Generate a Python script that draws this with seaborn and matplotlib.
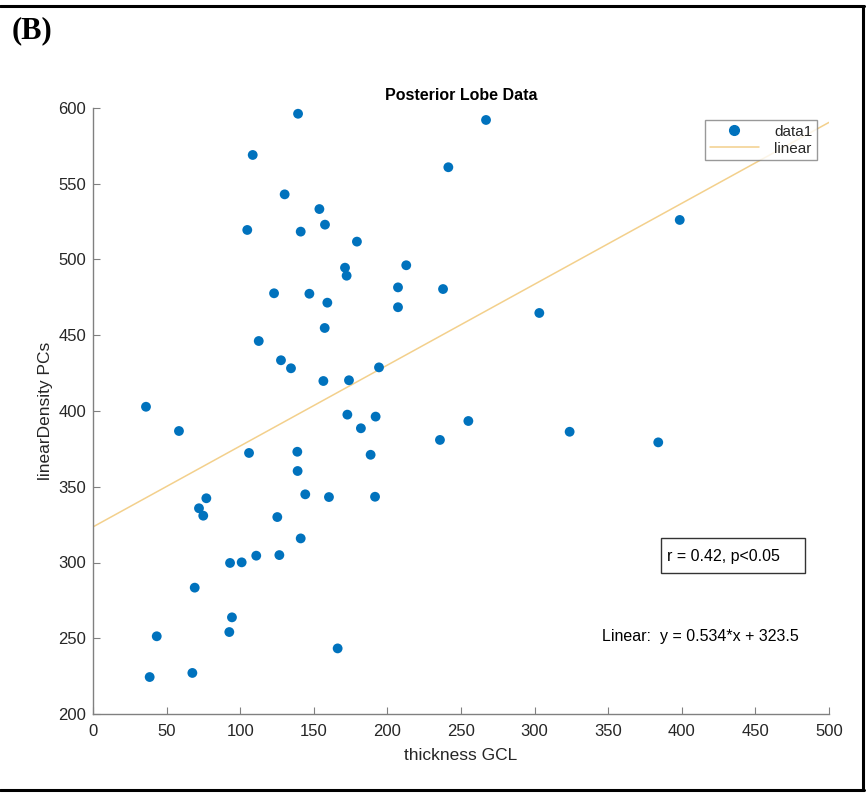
import matplotlib
matplotlib.use("Agg")
import matplotlib.pyplot as plt
from matplotlib.lines import Line2D
from matplotlib.patches import Rectangle
import numpy as np
import pandas as pd
import seaborn as sns

# ---- data ----
thickness_gcl = [139.3, 108.5, 130.2, 153.8, 104.8, 141.1, 157.6, 123.0, 147.0, 159.2,
                 157.4, 112.6, 127.7, 134.5, 156.5, 36.0, 179.3, 171.2, 172.3, 212.8,
                 207.2, 207.2, 237.8, 173.9, 194.3, 172.8, 192.0, 241.4, 267.0, 398.6,
                 303.2, 255.0, 235.7, 323.8, 384.0, 58.4, 106.0, 138.8, 139.0, 144.2,
                 77.0, 72.0, 74.9, 125.2, 141.1, 93.1, 101.0, 110.9, 126.6, 69.1,
                 94.4, 92.6, 43.3, 38.5, 67.5, 182.0, 188.6, 191.6, 166.2, 160.3]
linear_density = [596.2, 569.0, 543.0, 533.3, 519.5, 518.4, 523.0, 477.7, 477.4, 471.5,
                  454.8, 446.2, 433.5, 428.2, 419.8, 402.8, 511.8, 494.6, 489.3, 496.2,
                  481.6, 468.5, 480.5, 420.3, 428.8, 397.6, 396.3, 560.9, 592.1, 526.1,
                  464.7, 393.4, 380.9, 386.3, 379.3, 386.8, 372.3, 373.1, 360.4, 345.0,
                  342.4, 335.8, 330.9, 330.0, 315.9, 299.7, 300.1, 304.5, 304.9, 283.4,
                  263.8, 254.1, 251.3, 224.4, 227.1, 388.6, 371.1, 343.4, 243.3, 343.2]
fit_slope = 0.534
fit_intercept = 323.5
fit_x = [0, 500]
x_ticks = [0, 50, 100, 150, 200, 250, 300, 350, 400, 450, 500]
y_ticks = [200, 250, 300, 350, 400, 450, 500, 550, 600]
title = "Posterior Lobe Data"
panel_label = "(B)"
stats_text = "r = 0.42, p<0.05"
eq_text = "Linear:  y = 0.534*x + 323.5"

sns.set_theme(style="white")
plt.rcParams['font.family'] = ['Liberation Sans', 'DejaVu Sans']

W, H = 866, 793
fig = plt.figure(figsize=(W / 100, H / 100), dpi=100)
ax = fig.add_axes([93 / W, 1 - 714 / H, (829 - 93) / W, (714 - 108) / H])

df = pd.DataFrame({"thickness GCL": thickness_gcl, "linearDensity PCs": linear_density})
fit_df = pd.DataFrame({"x": fit_x, "y": [fit_slope * v + fit_intercept for v in fit_x]})

blue = "#0072BD"
fitc = "#F3D08C"
sns.lineplot(data=fit_df, x="x", y="y", ax=ax, color=fitc, linewidth=1.1, zorder=1)
sns.scatterplot(data=df, x="thickness GCL", y="linearDensity PCs", ax=ax, color=blue,
                s=50, edgecolor="none", zorder=3)

ax.set_xlim(0, 500)
ax.set_ylim(200, 600)
ax.set_xticks(x_ticks)
ax.set_yticks(y_ticks)
txtc = "#262626"
spc = "#808080"
ax.tick_params(direction="in", length=5, width=0.8, color=spc, labelsize=12,
               labelcolor=txtc, bottom=True, left=True)
ax.tick_params(axis="x", pad=7)
ax.tick_params(axis="y", pad=5)
for s in ["top", "right"]:
    ax.spines[s].set_visible(False)
for s in ["left", "bottom"]:
    ax.spines[s].set_color(spc)
    ax.spines[s].set_linewidth(1.0)
ax.set_xlabel("thickness GCL", fontsize=12.5, color=txtc, labelpad=7)
ax.set_ylabel("linearDensity PCs", fontsize=12.5, color=txtc, labelpad=4)
ax.set_title(title, fontsize=11.5, fontweight="bold", color="black", pad=6)

handles = [Line2D([], [], marker="o", linestyle="none", color=blue, markersize=7),
           Line2D([], [], color=fitc, linewidth=1.1)]
leg = ax.legend(handles, ["data1", "linear"], loc="upper right",
                bbox_to_anchor=((817 - 93) / 736, 1 - (120 - 108) / 606),
                frameon=True, fancybox=False, edgecolor="#808080", fontsize=11,
                handlelength=3.2, borderpad=0.3, labelspacing=0.2,
                handletextpad=1.0, markerfirst=True, borderaxespad=0)
leg.get_frame().set_linewidth(1.0)
for t in leg.get_texts():
    t.set_ha("right")
    t.set_color(txtc)

# stats box
ax.add_patch(Rectangle(((661 - 93) / 736, 1 - (573 - 108) / 606), 144 / 736, 35 / 606,
                       transform=ax.transAxes, fill=False, edgecolor="#333333",
                       linewidth=1.0, zorder=4))
ax.text((667 - 93) / 736, 1 - (556 - 108) / 606, stats_text, transform=ax.transAxes,
        ha="left", va="center", fontsize=11.5, color="black")
ax.text((602 - 93) / 736, 1 - (637 - 108) / 606, eq_text, transform=ax.transAxes,
        ha="left", va="center", fontsize=11.5, color="black")

# panel label
fig.text(12 / W, 1 - 31 / H, panel_label, ha="left", va="center", fontsize=22,
         fontweight="bold", family=["Liberation Serif", "DejaVu Serif"], color="black")

# outer frame
frame_kw = dict(color="black", linewidth=2.2, transform=fig.transFigure)
fig.add_artist(Line2D([0, 864 / W], [1 - 6 / H, 1 - 6 / H], **frame_kw))
fig.add_artist(Line2D([863 / W, 863 / W], [1 - 6 / H, 1 - 790 / H], **frame_kw))
fig.add_artist(Line2D([0, 864 / W], [1 - 790 / H, 1 - 790 / H], **frame_kw))

fig.savefig("out.png", dpi=100, facecolor="white")
